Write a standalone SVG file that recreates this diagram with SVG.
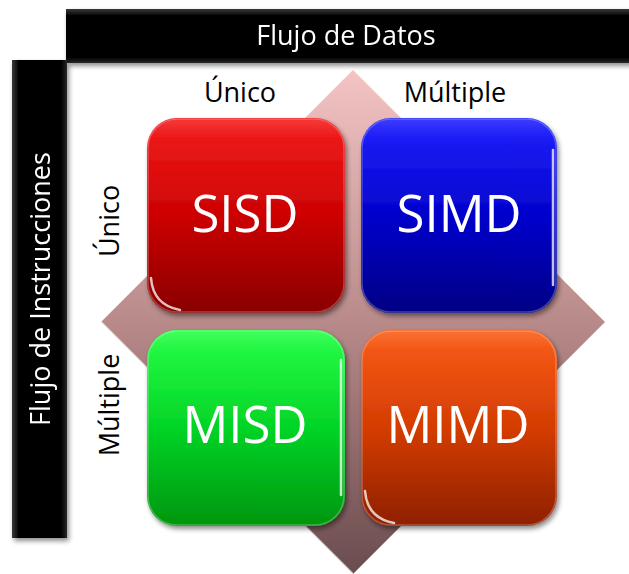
<svg xmlns="http://www.w3.org/2000/svg" width="629" height="574" viewBox="0 0 629 574">
  <style>
    .bar-label { font-family: "Open Sans", "Liberation Sans", sans-serif; font-size: 27px; fill: #ffffff; }
    .axis-label { font-family: "Open Sans", "Liberation Sans", sans-serif; font-size: 27px; fill: #000000; }
    .cell-label { font-family: "Open Sans", "Liberation Sans", sans-serif; font-size: 51px; fill: #ffffff; text-anchor: middle; }
    .gloss { fill: url(#gloss); }
    .rim { fill: none; stroke: #ffffff; stroke-opacity: 0.25; stroke-width: 1.5; }
    .glint { fill: none; stroke: #ffffff; stroke-opacity: 0.75; stroke-width: 2.5; stroke-linecap: round; }
  </style>
  <defs>
    <linearGradient id="barFill" x1="0" y1="0" x2="0" y2="1">
      <stop offset="0" stop-color="#3a3a3a"/>
      <stop offset="0.12" stop-color="#050505"/>
      <stop offset="0.9" stop-color="#000000"/>
      <stop offset="1" stop-color="#2a2a2a"/>
    </linearGradient>
    <linearGradient id="barFillV" x1="0" y1="0" x2="1" y2="0">
      <stop offset="0" stop-color="#3a3a3a"/>
      <stop offset="0.12" stop-color="#050505"/>
      <stop offset="0.9" stop-color="#000000"/>
      <stop offset="1" stop-color="#2a2a2a"/>
    </linearGradient>
    <linearGradient id="diamondFill" x1="0" y1="0" x2="0" y2="1">
      <stop offset="0" stop-color="#f4c4c4"/>
      <stop offset="0.5" stop-color="#b88a8a"/>
      <stop offset="1" stop-color="#6a4c4e"/>
    </linearGradient>
    <linearGradient id="redFill" x1="0" y1="0" x2="0" y2="1">
      <stop offset="0" stop-color="#f41818"/>
      <stop offset="0.5" stop-color="#cc0000"/>
      <stop offset="1" stop-color="#880000"/>
    </linearGradient>
    <linearGradient id="blueFill" x1="0" y1="0" x2="0" y2="1">
      <stop offset="0" stop-color="#1c1cff"/>
      <stop offset="0.5" stop-color="#0000cc"/>
      <stop offset="1" stop-color="#000084"/>
    </linearGradient>
    <linearGradient id="greenFill" x1="0" y1="0" x2="0" y2="1">
      <stop offset="0" stop-color="#24ff44"/>
      <stop offset="0.5" stop-color="#00d424"/>
      <stop offset="1" stop-color="#00960f"/>
    </linearGradient>
    <linearGradient id="orangeFill" x1="0" y1="0" x2="0" y2="1">
      <stop offset="0" stop-color="#fa5a12"/>
      <stop offset="0.5" stop-color="#d43a00"/>
      <stop offset="1" stop-color="#8e2000"/>
    </linearGradient>
    <linearGradient id="gloss" x1="0" y1="0" x2="0" y2="1">
      <stop offset="0" stop-color="#ffffff" stop-opacity="0.14"/>
      <stop offset="0.1" stop-color="#ffffff" stop-opacity="0.02"/>
      <stop offset="1" stop-color="#ffffff" stop-opacity="0"/>
    </linearGradient>
    <filter id="shadow" x="-10%" y="-10%" width="125%" height="125%">
      <feGaussianBlur in="SourceAlpha" stdDeviation="2.5"/>
      <feOffset dx="2" dy="3" result="b"/>
      <feComponentTransfer><feFuncA type="linear" slope="0.45"/></feComponentTransfer>
      <feMerge><feMergeNode/><feMergeNode in="SourceGraphic"/></feMerge>
    </filter>
  </defs>

  <rect width="629" height="574" fill="#ffffff"/>

  <!-- background diamond -->
  <g id="diamond">
    <polygon points="353,70 605,322 353,574 101,322" fill="url(#diamondFill)"/>
    <polyline points="101,322 353,574" fill="none" stroke="#ffffff" stroke-opacity="0.6" stroke-width="2"/>
  </g>

  <!-- header bars -->
  <g id="data-flow-bar" filter="url(#shadow)">
    <rect x="66" y="9" width="570" height="54" fill="url(#barFill)"/>
    <text class="bar-label" x="346" y="45" text-anchor="middle">Flujo de Datos</text>
  </g>
  <g id="instruction-flow-bar" filter="url(#shadow)">
    <rect x="12" y="60" width="55" height="478" fill="url(#barFillV)"/>
    <text class="bar-label" transform="translate(50,289) rotate(-90)" text-anchor="middle">Flujo de Instrucciones</text>
  </g>

  <!-- axis labels -->
  <g id="axis-labels">
    <text class="axis-label" x="240" y="102" text-anchor="middle">Único</text>
    <text class="axis-label" x="455" y="102" text-anchor="middle">Múltiple</text>
    <text class="axis-label" transform="translate(119,221) rotate(-90)" text-anchor="middle">Único</text>
    <text class="axis-label" transform="translate(119,405) rotate(-90)" text-anchor="middle">Múltiple</text>
  </g>

  <!-- quadrants -->
  <g id="sisd" filter="url(#shadow)">
    <rect x="147" y="118" width="198" height="195" rx="30" fill="url(#redFill)"/>
    <rect x="148" y="119" width="196" height="193" rx="29" class="gloss"/>
    <rect x="148" y="119" width="196" height="193" rx="29" class="rim"/>
    <path class="glint" d="M151,278 Q153,305 180,310"/>
    <text class="cell-label" x="245" y="232">SISD</text>
  </g>
  <g id="simd" filter="url(#shadow)">
    <rect x="361" y="118" width="196" height="195" rx="30" fill="url(#blueFill)"/>
    <rect x="362" y="119" width="194" height="193" rx="29" class="gloss"/>
    <rect x="362" y="119" width="194" height="193" rx="29" class="rim"/>
    <path class="glint" d="M553,150 L553,285"/>
    <text class="cell-label" x="459" y="232">SIMD</text>
  </g>
  <g id="misd" filter="url(#shadow)">
    <rect x="147" y="330" width="198" height="196" rx="30" fill="url(#greenFill)"/>
    <rect x="148" y="331" width="196" height="194" rx="29" class="gloss"/>
    <rect x="148" y="331" width="196" height="194" rx="29" class="rim"/>
    <path class="glint" d="M341,360 L341,495"/>
    <text class="cell-label" x="245" y="443">MISD</text>
  </g>
  <g id="mimd" filter="url(#shadow)">
    <rect x="361" y="330" width="196" height="196" rx="30" fill="url(#orangeFill)"/>
    <rect x="362" y="331" width="194" height="194" rx="29" class="gloss"/>
    <rect x="362" y="331" width="194" height="194" rx="29" class="rim"/>
    <path class="glint" d="M365,491 Q367,518 394,523"/>
    <text class="cell-label" x="458" y="443">MIMD</text>
  </g>
</svg>
